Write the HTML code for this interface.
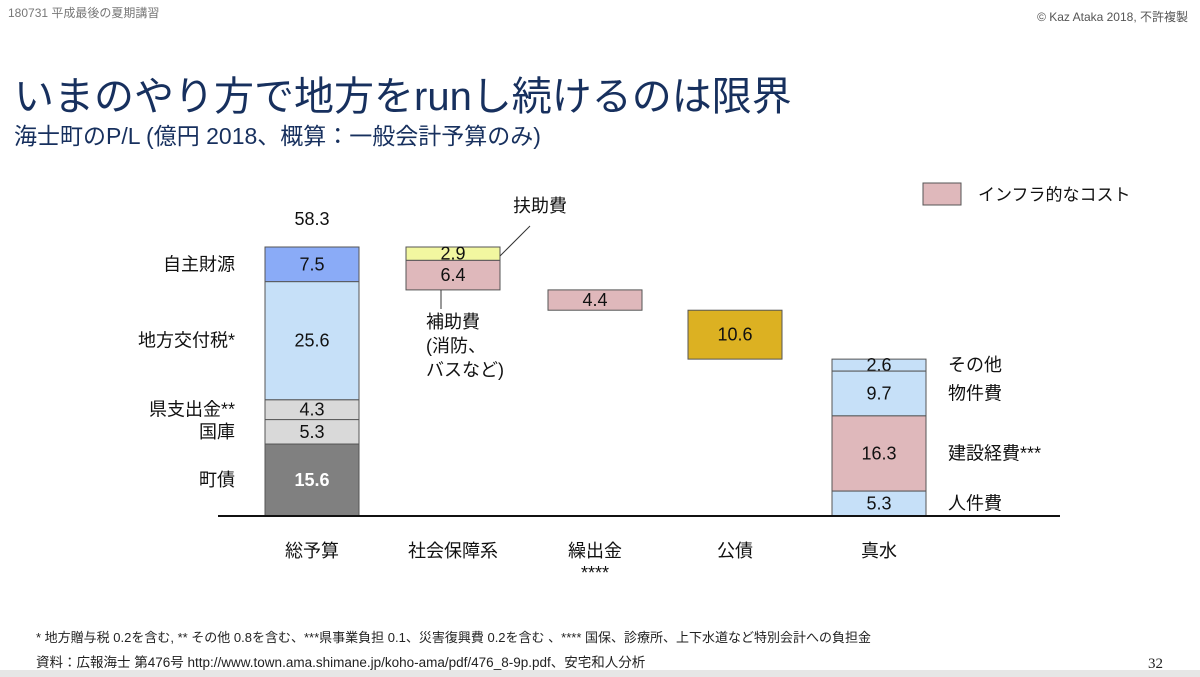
<!DOCTYPE html>
<html><head><meta charset="utf-8">
<style>
body{margin:0;width:1200px;height:677px;background:#fff;overflow:hidden;font-family:"Liberation Sans","Noto Sans CJK JP",sans-serif;position:relative}
.t{position:absolute;white-space:nowrap}
</style></head><body>
<div class="t" style="left:8px;top:4px;font-size:12px;color:#777">180731 平成最後の夏期講習</div>
<div class="t" style="right:12px;top:8px;font-size:12px;color:#555">© Kaz Ataka 2018, 不許複製</div>
<div class="t" style="left:14px;top:64px;font-size:40px;color:#17305e">いまのやり方で地方をrunし続けるのは限界</div>
<div class="t" style="left:14px;top:117px;font-size:23px;color:#17305e">海士町のP/L (億円 2018、概算：一般会計予算のみ)</div>
<div class="t" style="left:36px;top:627px;font-size:13px;color:#222">* 地方贈与税 0.2を含む, ** その他 0.8を含む、***県事業負担 0.1、災害復興費 0.2を含む 、**** 国保、診療所、上下水道など特別会計への負担金</div>
<div class="t" style="left:36px;top:651px;font-size:13.5px;color:#222">資料：広報海士 第476号 http://www.town.ama.shimane.jp/koho-ama/pdf/476_8-9p.pdf、安宅和人分析</div>
<div class="t" style="left:1148px;top:656px;font-size:15px;color:#222;font-family:'Liberation Serif',serif">32</div>
<div style="position:absolute;left:0;top:670px;width:1200px;height:7px;background:#e6e6e6"></div>
<svg id="chart" width="1200" height="677" style="position:absolute;left:0;top:0"></svg>
<script>
const categories=["総予算","社会保障系","繰出金","公債","真水"];
const seg0Labels=["町債","国庫","県支出金**","地方交付税*","自主財源"];
const seg0Values=[15.6,5.3,4.3,25.6,7.5];
const seg1Values=[2.9,6.4];
const seg2Values=[4.4];
const seg3Values=[10.6];
const seg4Labels=["その他","物件費","建設経費***","人件費"];
const seg4Values=[2.6,9.7,16.3,5.3];
const totalLabel="58.3";
const S="http://www.w3.org/2000/svg",svg=document.getElementById('chart');
const base=516,tot=seg0Values.reduce((a,b)=>a+b,0),k=(base-247)/tot;
const y=v=>base-v*k;
const bx=[265,406,548,688,832],bw=94;
function el(t,a,p){const e=document.createElementNS(S,t);for(const n in a)e.setAttribute(n,a[n]);(p||svg).appendChild(e);return e;}
function txt(x,yy,s,o){const e=el('text',Object.assign({x:x,y:yy,'font-size':18,'text-anchor':'middle','dominant-baseline':'central',fill:'#111','font-family':'"Liberation Sans","Noto Sans CJK JP",sans-serif'},o||{}));e.textContent=s;return e;}
function box(i,v0,v1,fill,lab,name,lc){const r=el('rect',{x:bx[i],y:y(v1),width:bw,height:y(v0)-y(v1),fill:fill,stroke:'#555','stroke-width':1});


const t=txt(bx[i]+bw/2,(y(v0)+y(v1))/2,lab,lc?{fill:lc,'font-weight':'bold'}:{});

}
const c0=['#808080','#d9d9d9','#d9d9d9','#c6e0f8','#8aabf7'];
let acc=0;
seg0Values.forEach((v,j)=>{box(0,acc,acc+v,c0[j],v.toFixed(1),'bar-total-seg-'+j,j==0?'#fff':null);
const l=txt(235,y(acc+v/2),seg0Labels[j],{'text-anchor':'end'});


acc+=v;});
const tl=txt(bx[0]+bw/2,y(tot)-28,totalLabel);


let cur=tot;
function down(i,vals,cols,nm){vals.forEach((v,j)=>{box(i,cur-v,cur,cols[j],v.toFixed(1),nm+'-'+j);cur-=v;});}
down(1,seg1Values,['#f2f7a0','#dfb8bb'],'bar-social');
down(2,seg2Values,['#dfb8bb'],'bar-transfer');
down(3,seg3Values,['#dcb122'],'bar-debt');
const c4=['#c6e0f8','#c6e0f8','#dfb8bb','#c6e0f8'];
seg4Values.forEach((v,j)=>{box(4,cur-v,cur,c4[j],v.toFixed(1),'bar-net-seg-'+j);
const l=txt(948,y(cur-v/2),seg4Labels[j],{'text-anchor':'start'});


cur-=v;});
const ax=el('line',{x1:218,x2:1060,y1:base,y2:base,stroke:'#111','stroke-width':2});


categories.forEach((c,i)=>{const t=txt(bx[i]+bw/2,551,c);

});
const st=txt(bx[2]+bw/2,573,'****');


el('line',{x1:500,y1:256,x2:530,y2:226,stroke:'#333'});
const a1=txt(540,206,'扶助費',{'text-anchor':'middle'});


el('line',{x1:441,y1:290,x2:441,y2:309,stroke:'#333'});
['補助費','(消防、','バスなど)'].forEach((s,i)=>{const t=txt(426,322+i*24,s,{'text-anchor':'start'});

});
const lr=el('rect',{x:923,y:183,width:38,height:22,fill:'#dfb8bb',stroke:'#555'});


const lt=txt(978,195,'インフラ的なコスト',{'text-anchor':'start','font-size':17});


</script>
</body></html>
